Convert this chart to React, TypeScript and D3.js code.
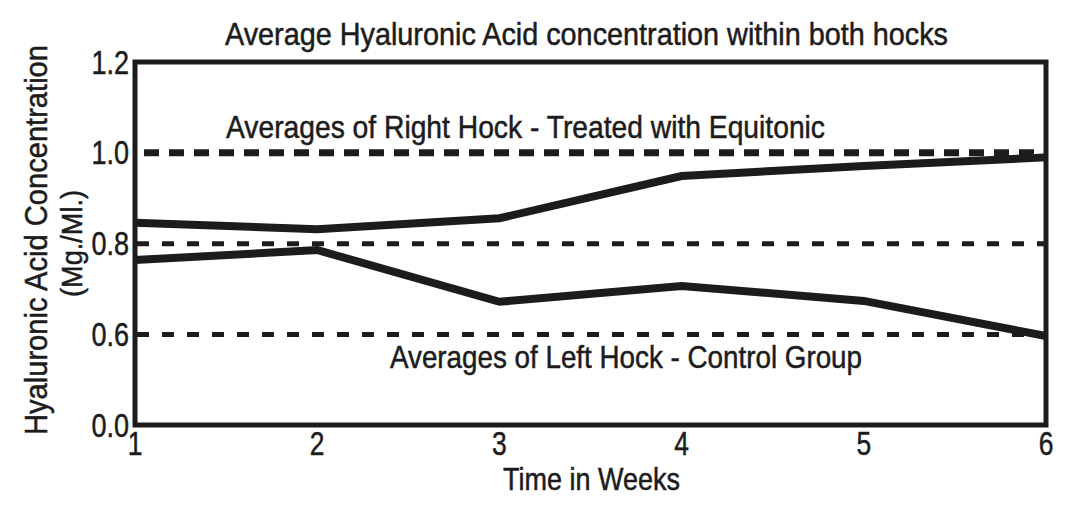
import React from "react";
import * as d3 from "d3";

const weeks = [1, 2, 3, 4, 5, 6];
const rightHock = [0.846, 0.832, 0.856, 0.949, 0.971, 0.99];
const leftHock = [0.764, 0.786, 0.672, 0.707, 0.674, 0.59];
const yTicks = [0.0, 0.6, 0.8, 1.0, 1.2];
const refLines = [1.0, 0.8, 0.6];

const W = 1078;
const H = 516;
const FONT = "'Liberation Sans', Arial, sans-serif";
const INK = "#1c1c1c";
const TS = { stroke: INK, strokeWidth: 0.5 };

export default function App() {
  const left = 135, right = 1046, top = 62, bottom = 425;
  const x = d3.scaleLinear().domain([1, 6]).range([left, right]);
  const y = d3.scaleLinear().domain([0, 0.6, 1.2]).range([bottom, 334.5, top]);
  const line = d3
    .line<number>()
    .x((_, i) => x(weeks[i]))
    .y((d) => y(d));

  const refStyle: Record<string, { w: number; dash: string; off: number }> = {
    "1": { w: 7, dash: "15 10", off: -9 },
    "0.8": { w: 5, dash: "12 13", off: -2 },
    "0.6": { w: 5, dash: "12 13", off: -2 },
  };

  return (
    <svg width={W} height={H} style={{ position: "absolute", left: 0, top: 0, background: "#fff" }}>
      <rect x={0} y={0} width={W} height={H} fill="#fff" />
      {refLines.map((v) => {
        const s = refStyle[String(v)];
        return (
          <line
            key={v}
            x1={left}
            x2={right}
            y1={y(v)}
            y2={y(v)}
            stroke={INK}
            strokeWidth={s.w}
            strokeDasharray={s.dash}
            strokeDashoffset={s.off}
          />
        );
      })}
      <path d={line(rightHock) || ""} fill="none" stroke={INK} strokeWidth={8} strokeLinejoin="miter" />
      <path d={line(leftHock) || ""} fill="none" stroke={INK} strokeWidth={8} strokeLinejoin="miter" />
      <rect x={left} y={top} width={right - left} height={bottom - top} fill="none" stroke={INK} strokeWidth={5} />

      {yTicks.map((t) => (
        <g key={t} transform={`translate(129,${y(t) + 11.5}) scale(0.82,1)`}>
          <text x={0} y={0} textAnchor="end" fontFamily={FONT} fontSize={33} fill={INK} {...TS}>
            {t.toFixed(1)}
          </text>
        </g>
      ))}
      {weeks.map((w) => (
        <g key={w} transform={`translate(${x(w)},455) scale(0.8,1)`}>
          <text x={0} y={0} textAnchor="middle" fontFamily={FONT} fontSize={33} fill={INK} {...TS}>
            {w}
          </text>
        </g>
      ))}

      <text x={225} y={45} fontFamily={FONT} fontSize={31.5} fill={INK} {...TS} textLength={723} lengthAdjust="spacingAndGlyphs">
        Average Hyaluronic Acid concentration within both hocks
      </text>
      <text x={226} y={138} fontFamily={FONT} fontSize={31.5} fill={INK} {...TS} textLength={599} lengthAdjust="spacingAndGlyphs">
        Averages of Right Hock - Treated with Equitonic
      </text>
      <text x={390} y={368} fontFamily={FONT} fontSize={31.5} fill={INK} {...TS} textLength={472} lengthAdjust="spacingAndGlyphs">
        Averages of Left Hock - Control Group
      </text>
      <text x={503} y={490} fontFamily={FONT} fontSize={31.5} fill={INK} {...TS} textLength={177} lengthAdjust="spacingAndGlyphs">
        Time in Weeks
      </text>
      <g transform="translate(47,240) rotate(-90)">
        <text x={0} y={0} textAnchor="middle" fontFamily={FONT} fontSize={31.5} fill={INK} {...TS} textLength={390} lengthAdjust="spacingAndGlyphs">
          Hyaluronic Acid Concentration
        </text>
      </g>
      <g transform="translate(82,243.5) rotate(-90)">
        <text x={0} y={0} textAnchor="middle" fontFamily={FONT} fontSize={30} fill={INK} {...TS} textLength={107} lengthAdjust="spacingAndGlyphs">
          (Mg./Ml.)
        </text>
      </g>
    </svg>
  );
}
